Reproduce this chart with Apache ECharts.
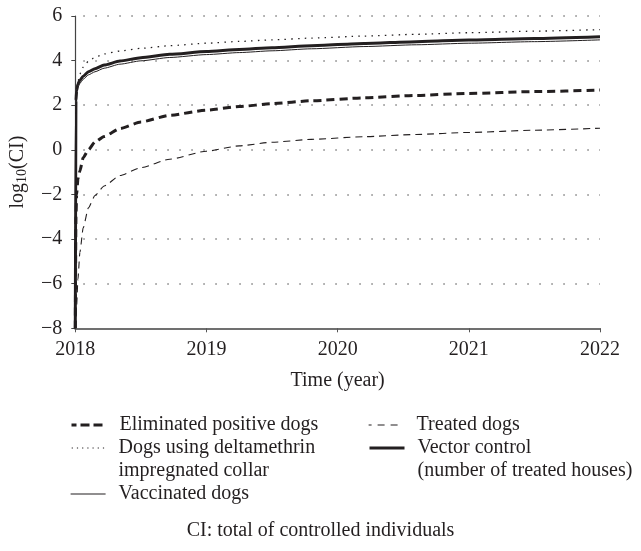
<!DOCTYPE html>
<html>
<head>
<meta charset="utf-8">
<script src="https://cdn.jsdelivr.net/npm/echarts@6.0.0/dist/echarts.min.js"></script>
<style>
  html, body { margin: 0; padding: 0; background: #ffffff; }
  #chart { width: 641px; height: 551px; }
</style>
</head>
<body>
<div id="chart"></div>
<script>
// ---- data ----
const years = [2018, 2018.005, 2018.01, 2018.02, 2018.035, 2018.06, 2018.1, 2018.15, 2018.22, 2018.34,
               2018.5, 2018.72, 2019, 2019.25, 2019.5, 2019.8, 2020.2, 2020.6, 2021, 2021.5, 2022];
const eliminatedPositiveDogs = [-8, -3.0, -2.0, -1.3, -0.95, -0.35, 0.0, 0.35, 0.6, 0.95,
                                1.25, 1.55, 1.78, 1.94, 2.07, 2.2, 2.33, 2.44, 2.53, 2.61, 2.68];
const treatedDogs = [-8, -7.6, -7.0, -5.8, -4.6, -3.5, -2.6, -2.05, -1.62, -1.15,
                     -0.8, -0.42, -0.06, 0.18, 0.34, 0.47, 0.59, 0.69, 0.78, 0.88, 0.97];
const collarDogs = [-8, 2.3, 2.7, 3.04, 3.4, 3.71, 3.97, 4.15, 4.3, 4.43,
                    4.55, 4.67, 4.78, 4.86, 4.93, 5.01, 5.1, 5.18, 5.25, 5.32, 5.39];
const vectorControl = [-8, 2.2, 2.65, 2.95, 3.12, 3.3, 3.5, 3.64, 3.8, 3.98,
                       4.13, 4.28, 4.41, 4.5, 4.58, 4.67, 4.77, 4.85, 4.92, 4.99, 5.07];
const vaccinatedDogs = [-8, 2.06, 2.51, 2.81, 2.98, 3.16, 3.36, 3.5, 3.66, 3.84,
                        3.99, 4.14, 4.27, 4.36, 4.44, 4.53, 4.63, 4.71, 4.78, 4.85, 4.93];
const xTicks = { min: 2018, max: 2022, step: 1 };
const yTicks = { min: -8, max: 6, step: 2 };
const names = {
  elim: 'Eliminated positive dogs',
  treated: 'Treated dogs',
  collar: 'Dogs using deltamethrin\nimpregnated collar',
  vector: 'Vector control\n(number of treated houses)',
  vacc: 'Vaccinated dogs'
};
const footer = 'CI: total of controlled individuals';

// ---- chart ----
const INK = '#231f20';
const FONT = '"Liberation Serif", "Times New Roman", serif';
const pairs = arr => years.map((t, i) => [t, arr[i]]);

function lineSeries(name, arr, width, type, z) {
  return {
    name: name, type: 'line', data: pairs(arr), symbol: 'none', showSymbol: false, z: z,
    smooth: 0.2, smoothMonotone: 'x',
    lineStyle: { color: INK, width: width, type: type },
    itemStyle: { color: INK },
    emphasis: { disabled: true }, animation: false
  };
}

function legendFor(name, left, top, width, type, twoLine) {
  return {
    data: [name], left: left, top: top, orient: 'vertical', padding: 0,
    itemWidth: 35, itemHeight: 14, selectedMode: false,
    itemStyle: { opacity: 0, borderWidth: 0 },
    lineStyle: { width: width, type: type, color: INK, opacity: 1 },
    formatter: n => (twoLine ? ' \n' + n : n),
    textStyle: {
      fontFamily: FONT, fontSize: 20, lineHeight: 23, color: INK,
      padding: [0, 0, 0, 8]
    }
  };
}

const chart = echarts.init(document.getElementById('chart'), null, { renderer: 'canvas' });
chart.setOption({
  backgroundColor: '#ffffff',
  animation: false,
  textStyle: { fontFamily: FONT, color: INK },
  title: {
    text: footer, left: 'center', top: 521, padding: [0, 0, 0, 35],
    textStyle: { fontFamily: FONT, fontSize: 20, fontWeight: 'normal', color: INK }
  },
  grid: { left: 75.3, right: 41, top: 16, bottom: 222.7, containLabel: false, outerBoundsMode: 'none' },
  xAxis: {
    type: 'value', min: xTicks.min, max: xTicks.max, interval: xTicks.step,
    name: 'Time (year)', nameLocation: 'middle', nameGap: 42,
    nameTextStyle: { fontFamily: FONT, fontSize: 20, color: INK },
    axisLine: { show: true, onZero: false, lineStyle: { color: '#707070', width: 2 } },
    axisTick: { show: true, length: 4, lineStyle: { color: '#555', width: 1 } },
    axisLabel: { fontFamily: FONT, fontSize: 20, color: INK, margin: 11, formatter: v => String(v) },
    splitLine: { show: false }
  },
  yAxis: {
    type: 'value', min: yTicks.min, max: yTicks.max, interval: yTicks.step,
    name: 'log{sub|10}(CI)', nameLocation: 'middle', nameGap: 46,
    nameTextStyle: {
      fontFamily: FONT, fontSize: 20, color: INK,
      rich: { sub: { fontFamily: FONT, fontSize: 14, color: INK, padding: [9, 0, 0, 0] } }
    },
    axisLine: { show: true, onZero: false, lineStyle: { color: '#444', width: 1.2 } },
    axisTick: { show: true, length: 4, lineStyle: { color: '#444', width: 1 } },
    axisLabel: {
      fontFamily: FONT, fontSize: 20, color: INK, margin: 13,
      formatter: v => (v < 0 ? '\u2212' + Math.abs(v) : String(v))
    },
    splitLine: { show: true, lineStyle: { color: '#808080', width: 1.5, type: [1.5, 10.5], dashOffset: 4 } }
  },
  legend: [
    legendFor(names.elim, 70, 413.5, 3, [9, 4], false),
    legendFor(names.collar, 70, 413.5, 1, [1.2, 4], true),
    legendFor(names.vacc, 70, 482.5, 1.2, 'solid', false),
    legendFor(names.treated, 368, 413.5, 1.2, [7, 6], false),
    legendFor(names.vector, 368, 413.5, 3, 'solid', true)
  ],
  series: [
    lineSeries(names.treated, treatedDogs, 1.1, [7, 5], 2),
    lineSeries(names.elim, eliminatedPositiveDogs, 3, [8, 5], 3),
    lineSeries(names.collar, collarDogs, 1.3, [1.5, 5.2], 4),
    lineSeries(names.vector, vectorControl, 3, 'solid', 5),
    lineSeries(names.vacc, vaccinatedDogs, 1, 'solid', 6)
  ]
});
</script>
</body>
</html>
